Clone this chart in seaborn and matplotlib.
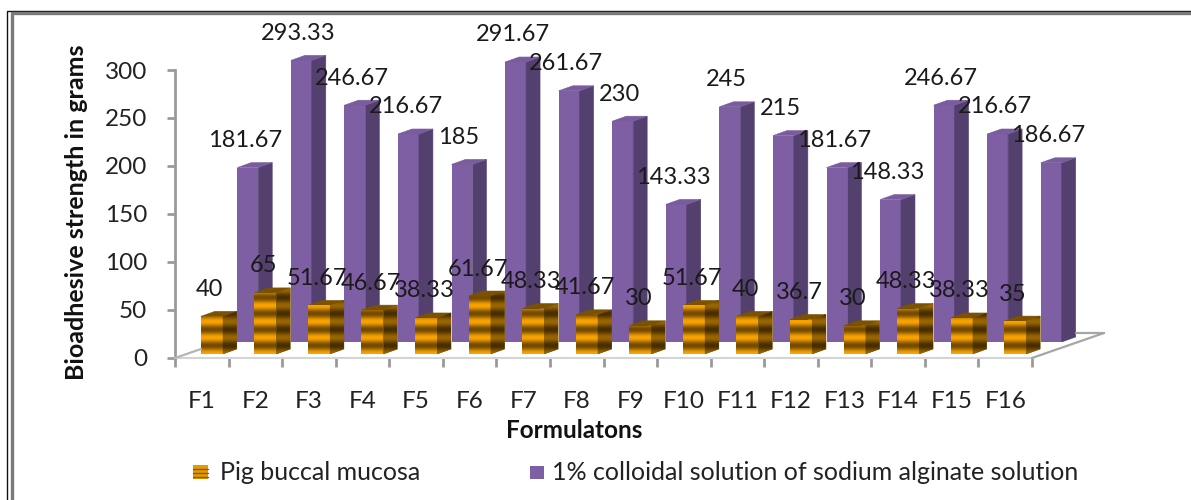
import numpy as np
import pandas as pd
import seaborn as sns
import matplotlib.pyplot as plt
from matplotlib.patches import Polygon, Rectangle
from matplotlib.transforms import IdentityTransform

formulations = ['F1', 'F2', 'F3', 'F4', 'F5', 'F6', 'F7', 'F8', 'F9', 'F10', 'F11', 'F12', 'F13', 'F14', 'F15', 'F16']
pig_buccal = [40, 65, 51.67, 46.67, 38.33, 61.67, 48.33, 41.67, 30, 51.67, 40, 36.7, 30, 48.33, 38.33, 35]
alginate = [181.67, 293.33, 246.67, 216.67, 185, 291.67, 261.67, 230, 143.33, 245, 215, 181.67, 148.33, 246.67, 216.67, 186.67]
pig_text = ['40', '65', '51.67', '46.67', '38.33', '61.67', '48.33', '41.67', '30', '51.67', '40', '36.7', '30', '48.33', '38.33', '35']
alg_text = ['181.67', '293.33', '246.67', '216.67', '185', '291.67', '261.67', '230', '143.33', '245', '215', '181.67', '148.33', '246.67', '216.67', '186.67']
y_ticks = [0, 50, 100, 150, 200, 250, 300]

W, H = 1191, 500
LABEL_SIZE = 17
AXIS_SIZE = 17.5
LEGEND_SIZE = 18

sns.set_theme(style='white')
plt.rcParams['font.family'] = ['Lato', 'DejaVu Sans']

fig = plt.figure(figsize=(W / 100, H / 100), dpi=100)
px = IdentityTransform()
df = pd.DataFrame({'formulation': formulations, 'pig': pig_buccal, 'alginate': alginate})


def make_axes(left, right, base_y, px_per_unit):
    # axes in pixel terms, y range fixed at 0-300
    top_y = base_y - 300 * px_per_unit
    a = fig.add_axes([left / W, (H - base_y) / H, (right - left) / W, (base_y - top_y) / H])
    a.patch.set_alpha(0)
    return a


def draw_series(left, base_y, scale, col, texts, width, face, side, top, label_dx, label_dy, stripes, depth=14, rise=5):
    a = make_axes(left, left + 857, base_y, scale)
    sns.barplot(data=df, x='formulation', y=col, color=face, saturation=1, width=width, linewidth=0, ax=a)
    a.set_xlim(-0.5, 15.5)
    a.set_ylim(0, 300)
    a.axis('off')
    fig.canvas.draw()
    for b, txt in zip(a.containers[0], texts):
        e = b.get_window_extent()
        x0, x1, y0, y1 = e.x0, e.x1, e.y0, e.y1
        side_p = Polygon([(x1, y0), (x1 + depth, y0 + rise), (x1 + depth, y1 + rise), (x1, y1)], closed=True,
                         facecolor=side, edgecolor=side, lw=0.4, transform=px, zorder=b.get_zorder())
        top_p = Polygon([(x0, y1), (x0 + depth, y1 + rise), (x1 + depth, y1 + rise), (x1, y1)], closed=True,
                        facecolor=top, edgecolor=top, lw=0.4, transform=px, zorder=b.get_zorder())
        a.add_patch(side_p)
        a.add_patch(top_p)
        if stripes:
            # banded gradient, same phase on the front and the side face
            rows = np.arange(int(y1 + rise - y0) + 1)
            band = (0.5 + 0.5 * np.cos(2 * np.pi * rows / 16))[::-1, None]
            for patch, dark in [(b, 1.0), (side_p, 0.62)]:
                light = np.array([0.98, 0.64, 0.0]) * dark
                deep = np.array([0.45, 0.29, 0.0]) * dark
                rgb = deep + (light - deep) * band[..., None]
                im = a.imshow(rgb, extent=(x0, x1 + depth, y0, y1 + rise), transform=px, aspect='auto',
                              interpolation='bilinear', zorder=b.get_zorder() + 0.1)
                im.set_clip_path(patch)
        a.annotate(txt, xy=(b.get_x() + b.get_width() / 2, b.get_height()), xycoords='data',
                   xytext=(label_dx, label_dy), textcoords='offset pixels', ha='center', va='center',
                   fontsize=LABEL_SIZE, color='#1a1a1a', zorder=5, annotation_clip=False)
    a.set_xlim(-0.5, 15.5)
    a.set_ylim(0, 300)
    return a


# main frame with axis lines and ticks
ax = make_axes(175, 1032, 358, 0.96)
ax.set_xlim(0, 16)
ax.set_ylim(0, 300)
ax.set_yticks(y_ticks)
ax.set_yticklabels([str(v) for v in y_ticks], fontsize=AXIS_SIZE, color='#222222')
ax.set_xticks(np.arange(0, 17))
ax.set_xticklabels([])
ax.tick_params(axis='y', length=6, width=2, color='#9a9a9a', pad=14, left=True)
ax.tick_params(axis='x', length=6.5, width=2, color='#9a9a9a', bottom=True)
for s in ['top', 'right']:
    ax.spines[s].set_visible(False)
ax.spines['left'].set_color('#9a9a9a')
ax.spines['left'].set_linewidth(2)
ax.spines['bottom'].set_color('#d4d4d4')
ax.spines['bottom'].set_linewidth(1.5)
for i, name in enumerate(formulations):
    ax.annotate(name, xy=(i + 0.5, 0), xycoords=ax.get_xaxis_transform(), xytext=(0, -43), textcoords='offset pixels',
                ha='center', va='center', fontsize=AXIS_SIZE, color='#222222')
ax.set_xlabel('Formulatons', fontsize=AXIS_SIZE, fontweight='bold', color='#111111')
ax.xaxis.set_label_coords((574 - 175) / 857, -61 / 288)
ax.set_ylabel('Bioadhesive strength in grams', fontsize=18, fontweight='bold', color='#111111')
ax.yaxis.set_label_coords((88 - 175) / 857, (358 - 212) / 288)

# floor edges of the 3d box
for pts, col in [([(1032, 358), (1104, 333)], '#a6a6a6'), ([(1104, 333), (1076, 333)], '#a6a6a6'),
                 ([(175, 358), (201, 349)], '#b5b5b5')]:
    xs = [p[0] / W for p in pts]
    ys = [(H - p[1]) / H for p in pts]
    fig.add_artist(plt.Line2D(xs, ys, color=col, lw=1.6))

draw_series(221, 342, 0.96, 'alginate', alg_text, 0.39, '#7f5fa3', '#53406e', '#7a5c9e', -3, 27, False)
draw_series(185, 354, 0.94, 'pig', pig_text, 0.41, '#f5a000', '#7a5200', '#7a5200', -2, 27, True)

# legend, drawn by hand to sit like the original
fig.add_artist(Rectangle((193 / W, (H - 479) / H), 15 / W, 14 / H, transform=fig.transFigure, facecolor='#e69a00', edgecolor='none'))
for yy in [469, 473, 477]:
    fig.add_artist(plt.Line2D([193 / W, 208 / W], [(H - yy) / H] * 2, color='#8a5c00', lw=1))
fig.add_artist(Rectangle((530 / W, (H - 479) / H), 14 / W, 13 / H, transform=fig.transFigure, facecolor='#7f5fa3', edgecolor='none'))
fig.text(220 / W, (H - 480) / H, 'Pig buccal mucosa', fontsize=LEGEND_SIZE, color='#222222', va='baseline')
fig.text(552 / W, (H - 480) / H, '1% colloidal solution of sodium alginate solution', fontsize=LEGEND_SIZE, color='#222222', va='baseline')

# picture frame, only left and top show
fig.add_artist(plt.Line2D([6.5 / W, 6.5 / W, 1], [0, (H - 10.5) / H, (H - 10.5) / H], color='#111111', lw=1))
fig.add_artist(plt.Line2D([11.5 / W, 11.5 / W, 1], [0, (H - 12.5) / H, (H - 12.5) / H], color='#7a7a7a', lw=2.4))

fig.savefig('out.png', dpi=100)
